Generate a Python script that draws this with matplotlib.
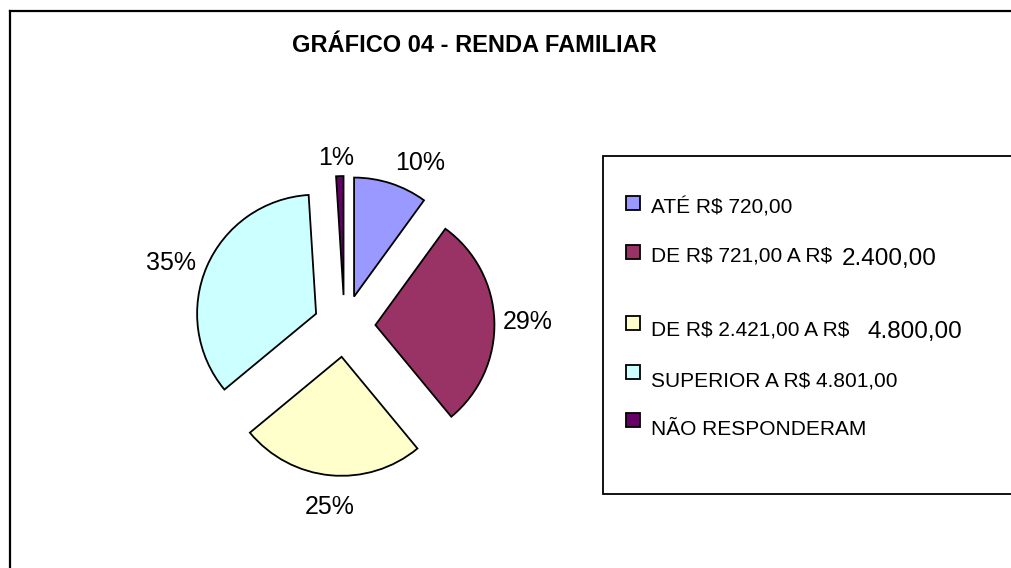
import matplotlib
matplotlib.use("Agg")
import matplotlib.pyplot as plt
from matplotlib.lines import Line2D
from matplotlib.patches import Rectangle

plt.rcParams['font.family'] = ['Liberation Sans', 'DejaVu Sans']
plt.rcParams['text.parse_math'] = False

# data
percent = [10, 29, 25, 35, 1]
legend_small = ["ATÉ R$ 720,00", "DE R$ 721,00 A R$", "DE R$ 2.421,00 A R$",
                "SUPERIOR A R$ 4.801,00", "NÃO RESPONDERAM"]
legend_big = ["", "2.400,00", "4.800,00", "", ""]
colors = ["#9999FF", "#993366", "#FFFFCC", "#CCFFFF", "#660066"]
title = "GRÁFICO 04 - RENDA FAMILIAR"

# label placement (pie radius units, relative to pie centre)
label_xy = [(0.632, 1.384), (1.542, 0.050), (-0.122, -1.504), (-1.462, 0.546), (-0.071, 1.429)]

W, H = 1012, 568
fig = plt.figure(figsize=(W / 100, H / 100), dpi=100)

def px(x, y):
    # pixel coords (from top-left) -> figure fraction
    return x / W, 1 - y / H

# pie axes: center (344.5, 326) px, radius 119 px
scale = 119
half = 2.0
side = 2 * half * scale
cx, cy = 344.5, 326
ax = fig.add_axes([(cx - side / 2) / W, (H - cy - side / 2) / H, side / W, side / H])
wedges, texts, autotexts = ax.pie(percent, colors=colors, startangle=90, counterclock=False,
                                  explode=[0.26] * len(percent), radius=1,
                                  autopct=lambda p: "%d%%" % round(p), pctdistance=1.25,
                                  textprops={'fontsize': 18, 'color': 'black'},
                                  wedgeprops={'edgecolor': 'black', 'linewidth': 1.3})
for t, (lx, ly) in zip(autotexts, label_xy):
    t.set_position((lx, ly - 0.075))
    t.set_va('baseline')
ax.set_xlim(-half, half)
ax.set_ylim(-half, half)
ax.set_aspect('equal')
ax.axis('off')

# outer frame (top and left only visible)
fig.add_artist(Line2D([10 / W, 1], [1 - 11 / H, 1 - 11 / H], color='black', lw=1.6))
fig.add_artist(Line2D([10 / W, 10 / W], [1 - 11 / H, 0], color='black', lw=1.6))

fig.text(*px(474, 52), title, ha='center', va='baseline', fontsize=17, fontweight='bold')

# legend box
fig.add_artist(Rectangle(px(603, 494), (W - 603 + 5) / W, (494 - 156) / H,
                         facecolor='white', edgecolor='black', lw=1.3))

marker_y = [203, 251.5, 323, 371.5, 420]
text_base = [213, 261.5, 335, 386.5, 435]
big_x = [None, 842, 867, None, None]
for i in range(len(legend_small)):
    fig.add_artist(Rectangle(px(626, marker_y[i] + 7), 14 / W, 14 / H,
                             facecolor=colors[i], edgecolor='black', lw=1.3))
    fig.text(*px(651, text_base[i]), legend_small[i], ha='left', va='baseline', fontsize=15)
    if legend_big[i]:
        fig.text(*px(big_x[i], text_base[i] + 3), legend_big[i], ha='left',
                 va='baseline', fontsize=17.5)

fig.savefig("out.png", dpi=100, facecolor='white')
